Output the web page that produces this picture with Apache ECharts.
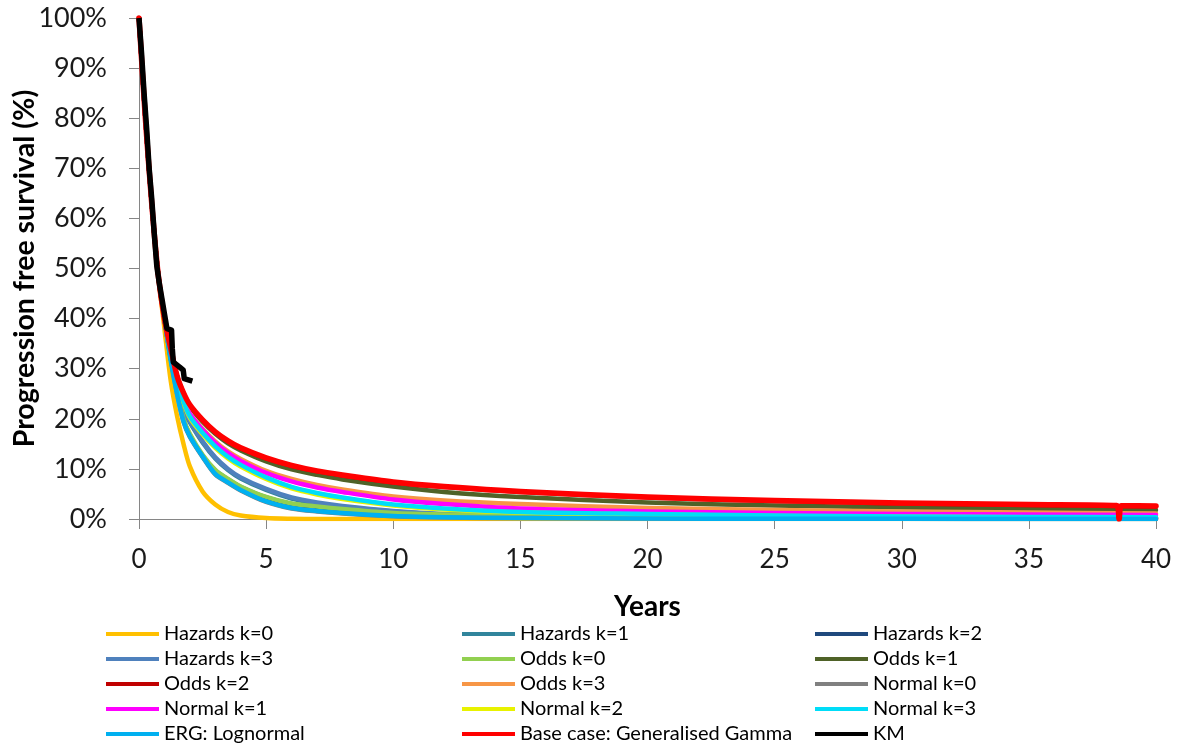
<!DOCTYPE html>
<html><head><meta charset="utf-8">
<script src="https://cdn.jsdelivr.net/npm/echarts@6/dist/echarts.min.js"></script>
<style>html,body{margin:0;padding:0;background:#fff}#c{width:1184px;height:749px}</style>
</head><body><div id="c"></div>
<script>
// Time points (years) shared by the modelled curves
const years = [0, 0.25, 0.5, 0.75, 1, 1.25, 1.5, 1.75, 2, 2.5, 3, 3.5, 4, 5, 6, 7, 8, 10, 12, 15, 20, 25, 30, 35, 40];

// Progression free survival (%)
const hazardsK0 = [100, 81, 63, 49, 38, 27.5, 20.5, 15, 10.5, 5.5, 2.9, 1.4, 0.7, 0.2, 0.05, 0, 0, 0, 0, 0, 0, 0, 0, 0, 0];
const hazardsK1 = [100, 80, 63, 49, 40, 32.5, 26.4, 21.8, 19.3, 15.3, 12.1, 9.8, 8.1, 5.8, 4.1, 3.1, 2.4, 1.5, 0.9, 0.5, 0.25, 0.15, 0.1, 0.05, 0.05];
const hazardsK2 = [100, 80, 63, 49, 40, 32, 25.5, 19.9, 16.7, 12.6, 9.7, 7.9, 6.4, 4.3, 3.0, 2.4, 1.9, 1.1, 0.85, 0.65, 0.45, 0.35, 0.28, 0.25, 0.22];
const hazardsK3 = [100, 80, 63, 49, 40, 32.5, 26.5, 22, 19.5, 15.5, 12.3, 10, 8.3, 6, 4.3, 3.3, 2.6, 1.6, 1.0, 0.6, 0.3, 0.2, 0.1, 0.1, 0.05];
const oddsK0    = [100, 80, 63, 49, 40, 32, 25.5, 20, 17, 12.8, 9.8, 8, 6.5, 4.4, 3.1, 2.5, 2.0, 1.2, 0.9, 0.7, 0.5, 0.4, 0.3, 0.3, 0.25];
const oddsK1    = [100, 80, 63, 49, 40, 34, 28.4, 25, 22.5, 19.4, 17, 15.1, 13.7, 11.5, 9.9, 8.8, 7.9, 6.5, 5.4, 4.4, 3.3, 2.7, 2.3, 2.0, 1.8];
const oddsK2    = [100, 80, 63, 49, 40, 34, 28.5, 25.1, 22.7, 19.7, 17.3, 15.5, 14.1, 12.1, 10.6, 9.5, 8.7, 7.3, 6.4, 5.4, 4.3, 3.6, 3.1, 2.8, 2.5];
const oddsK3    = [100, 80, 63, 49, 40, 33, 27.5, 24, 21, 18, 15.5, 13.5, 12, 9.6, 8, 6.8, 5.9, 4.5, 3.7, 3.0, 2.2, 1.8, 1.5, 1.3, 1.1];
const normalK0  = [100, 80, 63, 49, 40, 32, 25, 19.4, 16.4, 12.4, 8.9, 7.2, 5.7, 3.4, 2.1, 1.5, 1.1, 0.55, 0.3, 0.18, 0.1, 0.05, 0.03, 0.02, 0.01];
const normalK1  = [100, 80, 63, 49, 40, 33, 27.5, 23.8, 21, 17.8, 15.2, 13.2, 11.6, 9.2, 7.5, 6.3, 5.4, 3.9, 3.0, 2.1, 1.5, 1.2, 1.0, 0.9, 0.8];
const normalK2  = [100, 80, 63, 49, 40, 33, 27.2, 23.3, 20.2, 16.9, 14.2, 12.1, 10.5, 8.0, 6.1, 4.9, 4.0, 2.7, 1.9, 1.3, 0.9, 0.6, 0.45, 0.35, 0.3];
const normalK3  = [100, 80, 63, 49, 40, 33, 27.3, 23.5, 20.5, 17.2, 14.5, 12.4, 10.8, 8.3, 6.4, 5.2, 4.3, 2.9, 2.1, 1.4, 1.0, 0.7, 0.5, 0.4, 0.35];
const ergLognormal = [100, 80, 63, 49, 40, 31.5, 24.8, 19.5, 16.5, 12.5, 9.0, 7.3, 5.8, 3.5, 2.2, 1.6, 1.2, 0.6, 0.35, 0.2, 0.1, 0.05, 0.03, 0.02, 0.01];
const baseCaseGG = [100, 80, 63, 49, 40, 34, 28.5, 25.2, 22.8, 19.8, 17.4, 15.6, 14.2, 12.2, 10.7, 9.6, 8.8, 7.4, 6.5, 5.5, 4.4, 3.7, 3.2, 2.9, 2.6];
// Short drop visible in the base case curve near 38.5 years
const baseDipYears  = [38.45, 38.55, 38.65];
const baseDipValues = [2.7, 0, 2.65];

// Kaplan-Meier
const kmYears = [0, 0.1, 0.2, 0.3, 0.4, 0.5, 0.6, 0.7, 0.8, 0.9, 1.0, 1.1, 1.28, 1.31, 1.35, 1.6, 1.63, 1.74, 1.78, 2.1];
const kmPfs   = [100, 93, 85, 78, 70, 64, 57, 50.5, 47, 44, 41, 38, 37.7, 34, 31.3, 30.3, 30, 29.7, 28, 27.5];

// Axis ticks
const xTicks = [0, 40, 5];   // min, max, interval
const yTicks = [0, 100, 10];

const names = ['Hazards k=0','Hazards k=1','Hazards k=2','Hazards k=3','Odds k=0','Odds k=1','Odds k=2','Odds k=3','Normal k=0','Normal k=1','Normal k=2','Normal k=3','ERG: Lognormal','Base case: Generalised Gamma','KM'];
const colors = ['#FFC000','#31859C','#1F497D','#4F81BD','#92D050','#4F6228','#C00000','#F79646','#808080','#FF00FF','#E8F200','#00DDF8','#00B0F0','#FF0000','#000000'];
const values = [hazardsK0,hazardsK1,hazardsK2,hazardsK3,oddsK0,oddsK1,oddsK2,oddsK3,normalK0,normalK1,normalK2,normalK3,ergLognormal,baseCaseGG];

function pairs(xs, ys){ return xs.map((x,i)=>[x, ys[i]]); }

const series = [];
for (let i = 0; i < values.length; i++) {
  const isBase = names[i].startsWith('Base case');
  let data = pairs(years, values[i]);
  if (isBase) {
    data = data.concat(pairs(baseDipYears, baseDipValues)).sort((a,b)=>a[0]-b[0]);
  }
  series.push({
    name: names[i], type: 'line', data: data, showSymbol: false, symbol: 'none',
    smooth: 0.3,
    lineStyle: { color: colors[i], width: isBase ? 5.5 : 4.5, cap: 'round', join: 'round' },
    itemStyle: { color: colors[i] }
  });
}
series.push({
  name: 'KM', type: 'line', data: pairs(kmYears, kmPfs), showSymbol: false, symbol: 'none',
  lineStyle: { color: '#000000', width: 5.5, join: 'round' }, itemStyle: { color: '#000000' }
});

const legendCols = [
  ['Hazards k=0','Hazards k=3','Odds k=2','Normal k=1','ERG: Lognormal'],
  ['Hazards k=1','Odds k=0','Odds k=3','Normal k=2','Base case: Generalised Gamma'],
  ['Hazards k=2','Odds k=1','Normal k=0','Normal k=3','KM']
];
const legendLeft = [106, 462, 815];
const legends = legendCols.map((col, i) => ({
  orient: 'vertical', left: legendLeft[i], top: 624, padding: 0,
  itemWidth: 53, itemHeight: 4, itemGap: 5, icon: 'rect', selectedMode: false,
  textStyle: { fontFamily: 'Lato', fontSize: 20, color: '#000', lineHeight: 20 },
  data: col
}));

const axisColor = '#868686';
const chart = echarts.init(document.getElementById('c'), null, { renderer: 'canvas' });
chart.setOption({
  animation: false,
  backgroundColor: '#fff',
  grid: { left: 139, right: 28, top: 18, bottom: 230, containLabel: false, outerBoundsMode: 'none' },
  legend: legends,
  xAxis: {
    type: 'value', min: xTicks[0], max: xTicks[1], interval: xTicks[2],
    axisLine: { show: true, lineStyle: { color: axisColor, width: 1 } },
    axisTick: { show: true, length: 10, lineStyle: { color: axisColor } },
    splitLine: { show: false },
    axisLabel: { fontFamily: 'Lato', fontSize: 26, color: '#1a1a1a', margin: 28 },
    name: 'Years', nameLocation: 'middle', nameGap: 74, nameMoveOverlap: false,
    nameTextStyle: { fontFamily: 'Lato', fontWeight: 'bold', fontSize: 28, color: '#000' }
  },
  yAxis: {
    type: 'value', min: yTicks[0], max: yTicks[1], interval: yTicks[2],
    axisLine: { show: true, lineStyle: { color: axisColor, width: 1 } },
    axisTick: { show: true, length: 10, lineStyle: { color: axisColor } },
    splitLine: { show: false },
    axisLabel: { formatter: '{value}%', fontFamily: 'Lato', fontSize: 27, color: '#1a1a1a', margin: 32 },
    name: 'Progression free survival (%)', nameLocation: 'middle', nameGap: 100, nameMoveOverlap: false,
    nameTextStyle: { fontFamily: 'Lato', fontWeight: 'bold', fontSize: 28.5, color: '#000' }
  },
  series: series
});
</script>
</body></html>
